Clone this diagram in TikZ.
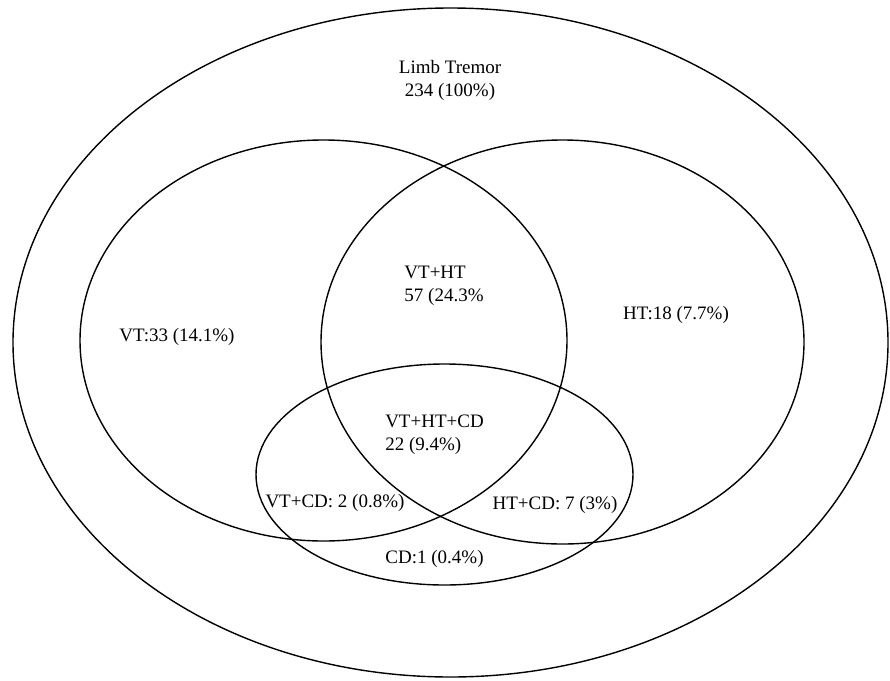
\documentclass[tikz,border=0pt]{standalone}
\usepackage{fontspec}
\setmainfont{Liberation Serif}
\begin{document}
\begin{tikzpicture}[x=1pt,y=-1pt,
  set/.style={draw=black,line width=1.4pt,fill=none},
  lbl/.style={font=\fontsize{19}{23}\selectfont,inner sep=0pt},
  lblL/.style={lbl,align=left},
  lblC/.style={lbl,align=center}]
\useasboundingbox[fill=white] (0,0) rectangle (890,680);
\draw[set] (450.5,342.5) ellipse [x radius=437.5, y radius=334.5];
\draw[set] (323.5,340.5) ellipse [x radius=243.5, y radius=200.5];
\draw[set] (562.5,342) ellipse [x radius=241.5, y radius=202];
\draw[set] (444.5,474.5) ellipse [x radius=188.5, y radius=110.5];
\node[lblC] (lt) at (450,80) {Limb Tremor\\234 (100\%)};
\node[lbl] (vt) at (177,337) {VT:33 (14.1\%)};
\node[lbl] (ht) at (676,315) {HT:18 (7.7\%)};
\node[lblL] (vtht) at (444,286) {VT+HT\\57 (24.3\%};
\node[lblL] (vthtcd) at (434.5,434.5) {VT+HT+CD\\22 (9.4\%)};
\node[lbl] (vtcd) at (335,503) {VT+CD: 2 (0.8\%)};
\node[lbl] (htcd) at (555,505) {HT+CD: 7 (3\%)};
\node[lbl] (cd) at (434.5,559) {CD:1 (0.4\%)};
\end{tikzpicture}
\end{document}
